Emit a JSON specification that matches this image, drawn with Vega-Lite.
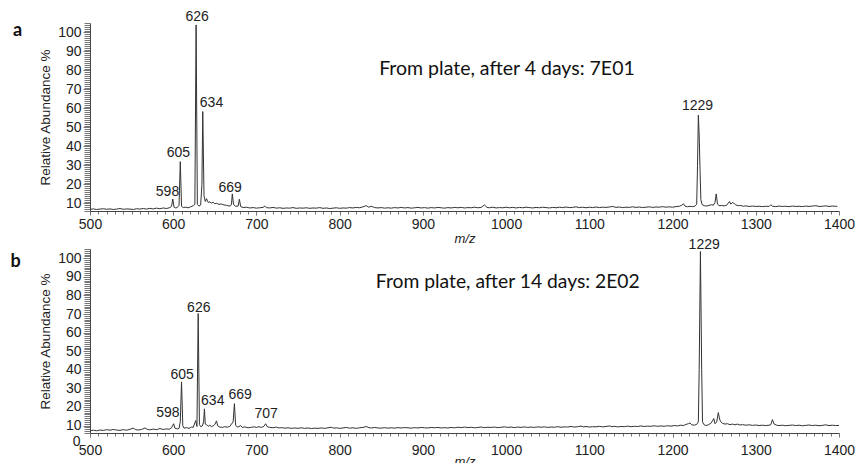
{
  "$schema": "https://vega.github.io/schema/vega-lite/v6.json",
  "background": "white",
  "padding": {"left": 10, "top": 10, "right": 5, "bottom": 0},
  "bounds": "flush",
  "spacing": 38,
  "config": {
    "view": {"stroke": null},
    "font": "Liberation Sans",
    "axis": {
      "grid": false,
      "labelFont": "Liberation Sans",
      "titleFont": "Liberation Sans",
      "labelFontSize": 14,
      "labelColor": "#222",
      "titleColor": "#222",
      "titleFontWeight": "normal",
      "labelOverlap": false,
      "labelFlush": false,
      "labelBound": false,
      "tickColor": "#777",
      "domainColor": "#444"
    }
  },
  "datasets": {
    "specA": [
      {"mz":500,"ab":6.9},{"mz":504,"ab":7.1},{"mz":508,"ab":6.8},{"mz":512,"ab":7.0},{"mz":516,"ab":7.2},{"mz":520,"ab":6.9},{"mz":524,"ab":7.1},{"mz":528,"ab":6.8},{"mz":532,"ab":7.0},{"mz":536,"ab":7.3},{"mz":540,"ab":6.9},{"mz":544,"ab":7.1},{"mz":548,"ab":7.0},{"mz":552,"ab":6.8},{"mz":556,"ab":7.2},{"mz":560,"ab":7.0},{"mz":564,"ab":7.3},{"mz":568,"ab":7.0},{"mz":572,"ab":7.4},{"mz":576,"ab":7.1},{"mz":580,"ab":7.5},{"mz":584,"ab":7.2},{"mz":588,"ab":7.6},{"mz":592,"ab":7.3},{"mz":596,"ab":7.8},{"mz":598,"ab":8.5},{"mz":599.5,"ab":12.3},{"mz":601,"ab":8.0},{"mz":603,"ab":7.6},{"mz":605,"ab":7.9},{"mz":607,"ab":9.0},{"mz":608.5,"ab":32.0},{"mz":610,"ab":8.5},{"mz":612,"ab":7.8},{"mz":615,"ab":8.0},{"mz":618,"ab":7.7},{"mz":621,"ab":8.2},{"mz":624,"ab":8.8},{"mz":626,"ab":9.5},{"mz":627.5,"ab":104},{"mz":629,"ab":9.5},{"mz":631,"ab":8.6},{"mz":633,"ab":9.2},{"mz":634.5,"ab":20},{"mz":635.5,"ab":58.4},{"mz":637,"ab":14},{"mz":638.5,"ab":11},{"mz":640,"ab":12.5},{"mz":642,"ab":10.5},{"mz":644,"ab":10.8},{"mz":646,"ab":10.2},{"mz":648,"ab":10.6},{"mz":650,"ab":9.8},{"mz":652,"ab":10.1},{"mz":655,"ab":9.5},{"mz":658,"ab":9.7},{"mz":661,"ab":9.2},{"mz":664,"ab":9.0},{"mz":667,"ab":8.6},{"mz":669,"ab":8.8},{"mz":670,"ab":9.6},{"mz":671,"ab":15},{"mz":672.5,"ab":9.4},{"mz":675,"ab":8.5},{"mz":678,"ab":8.6},{"mz":679.5,"ab":12.2},{"mz":681,"ab":8.4},{"mz":684,"ab":7.8},{"mz":688,"ab":8.0},{"mz":692,"ab":7.6},{"mz":696,"ab":7.8},{"mz":700,"ab":7.5},{"mz":704,"ab":7.7},{"mz":708,"ab":7.9},{"mz":710,"ab":8.6},{"mz":712,"ab":7.8},{"mz":716,"ab":7.6},{"mz":720,"ab":7.9},{"mz":724,"ab":7.5},{"mz":728,"ab":7.7},{"mz":732,"ab":7.4},{"mz":736,"ab":7.6},{"mz":740,"ab":7.5},{"mz":744,"ab":7.8},{"mz":748,"ab":7.4},{"mz":752,"ab":7.6},{"mz":756,"ab":7.5},{"mz":760,"ab":7.7},{"mz":764,"ab":7.4},{"mz":768,"ab":7.6},{"mz":772,"ab":7.5},{"mz":776,"ab":7.8},{"mz":780,"ab":7.4},{"mz":784,"ab":7.6},{"mz":788,"ab":7.3},{"mz":792,"ab":7.5},{"mz":796,"ab":7.7},{"mz":800,"ab":7.4},{"mz":804,"ab":7.6},{"mz":808,"ab":7.5},{"mz":812,"ab":7.8},{"mz":816,"ab":7.6},{"mz":820,"ab":7.9},{"mz":824,"ab":7.7},{"mz":828,"ab":8.2},{"mz":832,"ab":8.8},{"mz":835,"ab":8.0},{"mz":838,"ab":8.5},{"mz":842,"ab":7.8},{"mz":846,"ab":7.6},{"mz":850,"ab":7.8},{"mz":854,"ab":7.5},{"mz":858,"ab":7.7},{"mz":862,"ab":7.5},{"mz":866,"ab":7.8},{"mz":870,"ab":7.6},{"mz":874,"ab":7.9},{"mz":878,"ab":7.6},{"mz":882,"ab":7.8},{"mz":886,"ab":7.5},{"mz":890,"ab":7.7},{"mz":894,"ab":7.9},{"mz":898,"ab":7.6},{"mz":902,"ab":7.8},{"mz":906,"ab":7.5},{"mz":910,"ab":7.8},{"mz":914,"ab":7.6},{"mz":918,"ab":7.9},{"mz":922,"ab":7.7},{"mz":926,"ab":7.5},{"mz":930,"ab":7.8},{"mz":934,"ab":7.6},{"mz":938,"ab":7.9},{"mz":942,"ab":7.7},{"mz":946,"ab":7.9},{"mz":950,"ab":7.6},{"mz":954,"ab":7.8},{"mz":958,"ab":7.7},{"mz":962,"ab":8.0},{"mz":966,"ab":7.7},{"mz":970,"ab":7.9},{"mz":974,"ab":9.2},{"mz":977,"ab":7.9},{"mz":980,"ab":7.7},{"mz":984,"ab":8.0},{"mz":988,"ab":7.6},{"mz":992,"ab":7.8},{"mz":996,"ab":7.7},{"mz":1000,"ab":8.0},{"mz":1004,"ab":7.7},{"mz":1008,"ab":7.9},{"mz":1012,"ab":7.6},{"mz":1016,"ab":7.9},{"mz":1020,"ab":7.7},{"mz":1024,"ab":8.0},{"mz":1028,"ab":7.8},{"mz":1032,"ab":7.6},{"mz":1036,"ab":7.9},{"mz":1040,"ab":7.7},{"mz":1044,"ab":8.0},{"mz":1048,"ab":7.8},{"mz":1052,"ab":7.6},{"mz":1056,"ab":7.9},{"mz":1060,"ab":7.7},{"mz":1064,"ab":8.0},{"mz":1068,"ab":7.8},{"mz":1072,"ab":8.1},{"mz":1076,"ab":7.8},{"mz":1080,"ab":7.9},{"mz":1084,"ab":8.2},{"mz":1088,"ab":7.8},{"mz":1092,"ab":8.0},{"mz":1096,"ab":7.7},{"mz":1100,"ab":8.0},{"mz":1104,"ab":7.8},{"mz":1108,"ab":8.1},{"mz":1112,"ab":7.8},{"mz":1116,"ab":8.0},{"mz":1120,"ab":7.9},{"mz":1124,"ab":8.1},{"mz":1128,"ab":8.4},{"mz":1132,"ab":7.9},{"mz":1136,"ab":8.1},{"mz":1140,"ab":7.8},{"mz":1144,"ab":8.0},{"mz":1148,"ab":7.9},{"mz":1152,"ab":8.2},{"mz":1156,"ab":7.9},{"mz":1160,"ab":8.1},{"mz":1164,"ab":7.8},{"mz":1168,"ab":8.0},{"mz":1172,"ab":8.2},{"mz":1176,"ab":7.9},{"mz":1180,"ab":8.1},{"mz":1184,"ab":8.0},{"mz":1188,"ab":8.3},{"mz":1192,"ab":8.0},{"mz":1196,"ab":8.2},{"mz":1200,"ab":8.0},{"mz":1204,"ab":8.3},{"mz":1208,"ab":8.5},{"mz":1211,"ab":9.0},{"mz":1213,"ab":9.8},{"mz":1215,"ab":8.6},{"mz":1218,"ab":8.2},{"mz":1221,"ab":8.5},{"mz":1224,"ab":8.3},{"mz":1227,"ab":8.6},{"mz":1229,"ab":9.5},{"mz":1230,"ab":30},{"mz":1231,"ab":56.5},{"mz":1232,"ab":46},{"mz":1233,"ab":28},{"mz":1234,"ab":12},{"mz":1235.5,"ab":9.4},{"mz":1238,"ab":8.8},{"mz":1241,"ab":8.6},{"mz":1244,"ab":9.0},{"mz":1247,"ab":9.3},{"mz":1249,"ab":9.0},{"mz":1251,"ab":10.5},{"mz":1252.5,"ab":15},{"mz":1254,"ab":9.6},{"mz":1256,"ab":8.8},{"mz":1259,"ab":8.9},{"mz":1262,"ab":8.7},{"mz":1265,"ab":9.0},{"mz":1267,"ab":10.2},{"mz":1268.5,"ab":11.0},{"mz":1270,"ab":9.6},{"mz":1272,"ab":10.5},{"mz":1274,"ab":10.0},{"mz":1276,"ab":9.2},{"mz":1279,"ab":8.8},{"mz":1282,"ab":8.9},{"mz":1285,"ab":8.5},{"mz":1288,"ab":8.7},{"mz":1292,"ab":8.4},{"mz":1296,"ab":8.6},{"mz":1300,"ab":8.4},{"mz":1304,"ab":8.5},{"mz":1308,"ab":8.3},{"mz":1312,"ab":8.5},{"mz":1316,"ab":8.4},{"mz":1318,"ab":9.3},{"mz":1320,"ab":8.5},{"mz":1324,"ab":8.3},{"mz":1328,"ab":8.6},{"mz":1332,"ab":8.4},{"mz":1336,"ab":8.5},{"mz":1340,"ab":8.3},{"mz":1344,"ab":8.6},{"mz":1348,"ab":8.4},{"mz":1352,"ab":8.5},{"mz":1356,"ab":8.3},{"mz":1360,"ab":8.6},{"mz":1364,"ab":8.4},{"mz":1368,"ab":8.6},{"mz":1372,"ab":8.8},{"mz":1376,"ab":8.4},{"mz":1380,"ab":8.5},{"mz":1384,"ab":8.7},{"mz":1388,"ab":8.4},{"mz":1392,"ab":8.6},{"mz":1396,"ab":8.5},{"mz":1398,"ab":8.4}
    ],
    "specB": [
      {"mz":500,"ab":7.3},{"mz":504,"ab":7.5},{"mz":508,"ab":7.2},{"mz":512,"ab":7.6},{"mz":516,"ab":7.4},{"mz":520,"ab":7.8},{"mz":524,"ab":7.5},{"mz":528,"ab":7.9},{"mz":532,"ab":7.6},{"mz":536,"ab":7.4},{"mz":540,"ab":7.8},{"mz":544,"ab":7.5},{"mz":548,"ab":8.0},{"mz":552,"ab":8.6},{"mz":555,"ab":7.8},{"mz":558,"ab":7.6},{"mz":562,"ab":7.9},{"mz":566,"ab":8.7},{"mz":569,"ab":7.9},{"mz":572,"ab":7.7},{"mz":576,"ab":8.1},{"mz":580,"ab":7.8},{"mz":584,"ab":8.4},{"mz":588,"ab":7.9},{"mz":592,"ab":8.2},{"mz":595,"ab":8.0},{"mz":598,"ab":8.8},{"mz":600.5,"ab":11.0},{"mz":602,"ab":8.6},{"mz":605,"ab":8.2},{"mz":607,"ab":8.5},{"mz":608.5,"ab":12},{"mz":610,"ab":33.5},{"mz":611.5,"ab":10},{"mz":613,"ab":8.6},{"mz":616,"ab":8.9},{"mz":619,"ab":8.5},{"mz":622,"ab":9.2},{"mz":624,"ab":9.0},{"mz":626,"ab":11.5},{"mz":627,"ab":12.7},{"mz":628.5,"ab":9.5},{"mz":630,"ab":70.3},{"mz":631.5,"ab":10.5},{"mz":633,"ab":9.4},{"mz":635,"ab":9.8},{"mz":636.5,"ab":12},{"mz":637.5,"ab":19},{"mz":638.5,"ab":10.8},{"mz":640,"ab":10.5},{"mz":642,"ab":9.6},{"mz":644,"ab":10.2},{"mz":646,"ab":9.4},{"mz":648,"ab":9.8},{"mz":650,"ab":10.6},{"mz":652,"ab":12.5},{"mz":653.5,"ab":9.8},{"mz":656,"ab":9.2},{"mz":659,"ab":9.0},{"mz":662,"ab":9.4},{"mz":665,"ab":9.1},{"mz":668,"ab":9.6},{"mz":670,"ab":10.8},{"mz":672,"ab":12.0},{"mz":673.5,"ab":21.8},{"mz":675,"ab":10.2},{"mz":677,"ab":9.2},{"mz":679,"ab":9.4},{"mz":681,"ab":10.0},{"mz":683,"ab":9.0},{"mz":686,"ab":9.3},{"mz":690,"ab":8.8},{"mz":694,"ab":9.1},{"mz":698,"ab":9.3},{"mz":700,"ab":9.0},{"mz":703,"ab":9.4},{"mz":706,"ab":9.0},{"mz":709,"ab":9.6},{"mz":711,"ab":11.0},{"mz":713,"ab":9.4},{"mz":716,"ab":9.0},{"mz":720,"ab":8.8},{"mz":724,"ab":9.2},{"mz":727,"ab":8.7},{"mz":730,"ab":8.9},{"mz":734,"ab":8.6},{"mz":738,"ab":8.8},{"mz":742,"ab":8.5},{"mz":746,"ab":8.7},{"mz":750,"ab":8.5},{"mz":754,"ab":8.8},{"mz":758,"ab":8.5},{"mz":762,"ab":8.7},{"mz":766,"ab":8.4},{"mz":770,"ab":8.6},{"mz":774,"ab":8.5},{"mz":778,"ab":8.7},{"mz":782,"ab":8.5},{"mz":786,"ab":8.8},{"mz":790,"ab":9.1},{"mz":793,"ab":8.6},{"mz":796,"ab":8.8},{"mz":800,"ab":8.5},{"mz":804,"ab":8.7},{"mz":808,"ab":9.0},{"mz":812,"ab":8.6},{"mz":816,"ab":8.8},{"mz":820,"ab":8.5},{"mz":824,"ab":8.8},{"mz":828,"ab":9.0},{"mz":832,"ab":9.5},{"mz":835,"ab":8.9},{"mz":838,"ab":8.7},{"mz":842,"ab":9.0},{"mz":846,"ab":8.7},{"mz":850,"ab":8.6},{"mz":854,"ab":8.9},{"mz":858,"ab":8.6},{"mz":862,"ab":8.8},{"mz":866,"ab":8.6},{"mz":870,"ab":8.9},{"mz":874,"ab":8.7},{"mz":878,"ab":8.9},{"mz":882,"ab":8.8},{"mz":886,"ab":8.6},{"mz":890,"ab":8.9},{"mz":894,"ab":8.7},{"mz":898,"ab":9.0},{"mz":902,"ab":8.8},{"mz":906,"ab":8.7},{"mz":910,"ab":9.0},{"mz":914,"ab":8.8},{"mz":918,"ab":9.0},{"mz":922,"ab":8.7},{"mz":926,"ab":8.9},{"mz":930,"ab":8.7},{"mz":934,"ab":9.0},{"mz":938,"ab":8.8},{"mz":942,"ab":9.1},{"mz":946,"ab":8.9},{"mz":950,"ab":9.2},{"mz":954,"ab":8.9},{"mz":958,"ab":9.1},{"mz":962,"ab":8.8},{"mz":966,"ab":9.0},{"mz":970,"ab":9.2},{"mz":974,"ab":8.9},{"mz":978,"ab":9.1},{"mz":982,"ab":9.0},{"mz":986,"ab":9.2},{"mz":990,"ab":8.9},{"mz":994,"ab":9.1},{"mz":998,"ab":9.3},{"mz":1002,"ab":9.0},{"mz":1006,"ab":9.2},{"mz":1010,"ab":8.9},{"mz":1014,"ab":9.2},{"mz":1018,"ab":9.0},{"mz":1022,"ab":9.3},{"mz":1026,"ab":9.0},{"mz":1030,"ab":9.2},{"mz":1034,"ab":9.0},{"mz":1038,"ab":9.3},{"mz":1042,"ab":9.1},{"mz":1046,"ab":9.3},{"mz":1050,"ab":9.0},{"mz":1054,"ab":9.2},{"mz":1058,"ab":9.1},{"mz":1062,"ab":9.4},{"mz":1066,"ab":9.1},{"mz":1070,"ab":9.3},{"mz":1074,"ab":9.2},{"mz":1078,"ab":9.5},{"mz":1082,"ab":9.2},{"mz":1086,"ab":9.4},{"mz":1090,"ab":9.7},{"mz":1093,"ab":9.3},{"mz":1096,"ab":9.5},{"mz":1100,"ab":9.2},{"mz":1104,"ab":9.4},{"mz":1108,"ab":9.3},{"mz":1112,"ab":9.6},{"mz":1116,"ab":9.3},{"mz":1120,"ab":9.5},{"mz":1124,"ab":9.8},{"mz":1127,"ab":9.4},{"mz":1130,"ab":9.6},{"mz":1134,"ab":9.3},{"mz":1138,"ab":9.5},{"mz":1142,"ab":9.4},{"mz":1146,"ab":9.7},{"mz":1150,"ab":9.4},{"mz":1154,"ab":9.6},{"mz":1158,"ab":9.5},{"mz":1162,"ab":9.8},{"mz":1166,"ab":9.5},{"mz":1170,"ab":9.7},{"mz":1174,"ab":9.6},{"mz":1178,"ab":9.9},{"mz":1182,"ab":9.6},{"mz":1186,"ab":9.8},{"mz":1190,"ab":9.6},{"mz":1194,"ab":9.9},{"mz":1198,"ab":9.7},{"mz":1202,"ab":10.0},{"mz":1206,"ab":9.8},{"mz":1210,"ab":10.2},{"mz":1213,"ab":10.0},{"mz":1216,"ab":10.6},{"mz":1219,"ab":11.0},{"mz":1221,"ab":11.4},{"mz":1223,"ab":10.4},{"mz":1226,"ab":10.2},{"mz":1229,"ab":10.6},{"mz":1231,"ab":12},{"mz":1232,"ab":40},{"mz":1233.5,"ab":103.6},{"mz":1235,"ab":40},{"mz":1236,"ab":12},{"mz":1237.5,"ab":10.6},{"mz":1240,"ab":10.0},{"mz":1243,"ab":10.4},{"mz":1246,"ab":11.2},{"mz":1248,"ab":12.5},{"mz":1249.5,"ab":13.8},{"mz":1251,"ab":11.0},{"mz":1253,"ab":12.0},{"mz":1255,"ab":17.0},{"mz":1256.5,"ab":13.5},{"mz":1258,"ab":12.0},{"mz":1260,"ab":11.2},{"mz":1263,"ab":10.8},{"mz":1266,"ab":11.0},{"mz":1269,"ab":10.5},{"mz":1272,"ab":10.8},{"mz":1275,"ab":10.4},{"mz":1278,"ab":10.8},{"mz":1281,"ab":10.3},{"mz":1284,"ab":10.5},{"mz":1288,"ab":10.2},{"mz":1292,"ab":10.4},{"mz":1296,"ab":10.1},{"mz":1300,"ab":10.3},{"mz":1304,"ab":10.0},{"mz":1308,"ab":10.2},{"mz":1312,"ab":10.0},{"mz":1316,"ab":10.2},{"mz":1318,"ab":10.4},{"mz":1320,"ab":13.2},{"mz":1322,"ab":10.8},{"mz":1325,"ab":10.2},{"mz":1328,"ab":10.0},{"mz":1332,"ab":10.2},{"mz":1336,"ab":9.9},{"mz":1340,"ab":10.1},{"mz":1344,"ab":10.3},{"mz":1348,"ab":10.0},{"mz":1352,"ab":10.2},{"mz":1356,"ab":9.9},{"mz":1360,"ab":10.1},{"mz":1364,"ab":10.3},{"mz":1368,"ab":10.0},{"mz":1372,"ab":10.2},{"mz":1376,"ab":9.9},{"mz":1380,"ab":10.1},{"mz":1384,"ab":10.4},{"mz":1388,"ab":10.0},{"mz":1392,"ab":10.2},{"mz":1396,"ab":10.0},{"mz":1400,"ab":10.1}
    ],
    "labA": [
      {"mz":593.1,"ab":16.2,"t":"598"},{"mz":606.3,"ab":36.5,"t":"605"},{"mz":628.8,"ab":107.9,"t":"626"},{"mz":646,"ab":62.8,"t":"634"},{"mz":668.4,"ab":18.1,"t":"669"},{"mz":1230,"ab":61.4,"t":"1229"}
    ],
    "labB": [
      {"mz":593.5,"ab":17,"t":"598"},{"mz":610.7,"ab":37.1,"t":"605"},{"mz":630.7,"ab":73.4,"t":"626"},{"mz":647.5,"ab":23.1,"t":"634"},{"mz":680.4,"ab":26.3,"t":"669"},{"mz":711.7,"ab":16.1,"t":"707"},{"mz":1238,"ab":107.1,"t":"1229"}
    ],
    "noteA": [{"mz":1001,"ab":81,"t":"From plate, after 4 days: 7E01"}],
    "noteB": [{"mz":1002,"ab":87,"t":"From plate, after 14 days: 2E02"}],
    "letA": [{"mz":412.9,"ab":98.3,"t":"a"}],
    "letB": [{"mz":410.5,"ab":95.5,"t":"b"}],
    "zeroB": [{"mz":483.8,"ab":1.1,"t":"0"}]
  },
  "vconcat": [
    {
      "width": 749,
      "height": 188,
      "encoding": {
        "x": {"field": "mz", "type": "quantitative",
          "scale": {"domain": [500, 1400], "nice": false, "zero": false},
          "axis": {"title": "m/z", "titleFontStyle": "italic", "titleFontSize": 13, "titlePadding": 1, "tickCount": 90, "format": "d",
            "labelExpr": "datum.value % 100 === 0 ? datum.label : ''",
            "tickSize": {"condition": {"test": "datum.value % 100 === 0", "value": 4}, "value": 3},
            "labelPadding": 2}},
        "y": {"field": "ab", "type": "quantitative",
          "scale": {"domain": [6, 105], "nice": false, "zero": false},
          "axis": {"title": "Relative Abundance %", "titleFontSize": 13.5, "titlePadding": 5, "tickCount": 100, "format": "d",
            "labelExpr": "datum.value % 10 === 0 ? datum.label : ''",
            "tickSize": {"condition": {"test": "datum.value % 10 === 0", "value": 7}, "value": 6},
            "labelPadding": 2}}
      },
      "layer": [
        {"data": {"name": "specA"}, "mark": {"type": "line", "color": "#333", "strokeWidth": 1}},
        {"data": {"name": "labA"}, "mark": {"type": "text", "fontSize": 14, "color": "#222", "align": "center", "baseline": "middle"}, "encoding": {"text": {"field": "t"}}},
        {"data": {"name": "noteA"}, "mark": {"type": "text", "font": "Lato", "fontSize": 19.5, "color": "#111", "align": "center", "baseline": "middle"}, "encoding": {"text": {"field": "t"}}},
        {"data": {"name": "letA"}, "mark": {"type": "text", "font": "Lato", "fontSize": 18, "fontWeight": "bold", "color": "#111", "align": "center", "baseline": "alphabetic"}, "encoding": {"text": {"field": "t"}}}
      ]
    },
    {
      "width": 749,
      "height": 184,
      "encoding": {
        "x": {"field": "mz", "type": "quantitative",
          "scale": {"domain": [500, 1400], "nice": false, "zero": false},
          "axis": {"title": "m/z", "titleFontStyle": "italic", "titleFontSize": 13, "titlePadding": -2, "tickCount": 90, "format": "d",
            "labelExpr": "datum.value % 100 === 0 ? datum.label : ''",
            "tickSize": {"condition": {"test": "datum.value % 100 === 0", "value": 4}, "value": 3},
            "labelPadding": 6}},
        "y": {"field": "ab", "type": "quantitative",
          "scale": {"domain": [6, 105], "nice": false, "zero": false},
          "axis": {"title": "Relative Abundance %", "titleFontSize": 13.5, "titlePadding": 5, "tickCount": 100, "format": "d",
            "labelExpr": "datum.value % 10 === 0 ? datum.label : ''",
            "tickSize": {"condition": {"test": "datum.value % 10 === 0", "value": 7}, "value": 6},
            "labelPadding": 2}}
      },
      "layer": [
        {"data": {"name": "specB"}, "mark": {"type": "line", "color": "#333", "strokeWidth": 1}},
        {"data": {"name": "labB"}, "mark": {"type": "text", "fontSize": 14, "color": "#222", "align": "center", "baseline": "middle"}, "encoding": {"text": {"field": "t"}}},
        {"data": {"name": "noteB"}, "mark": {"type": "text", "font": "Lato", "fontSize": 19.3, "color": "#111", "align": "center", "baseline": "middle"}, "encoding": {"text": {"field": "t"}}},
        {"data": {"name": "letB"}, "mark": {"type": "text", "font": "Lato", "fontSize": 18, "fontWeight": "bold", "color": "#111", "align": "center", "baseline": "alphabetic"}, "encoding": {"text": {"field": "t"}}},
        {"data": {"name": "zeroB"}, "mark": {"type": "text", "fontSize": 14, "color": "#222", "align": "center", "baseline": "middle"}, "encoding": {"text": {"field": "t"}}}
      ]
    }
  ]
}
